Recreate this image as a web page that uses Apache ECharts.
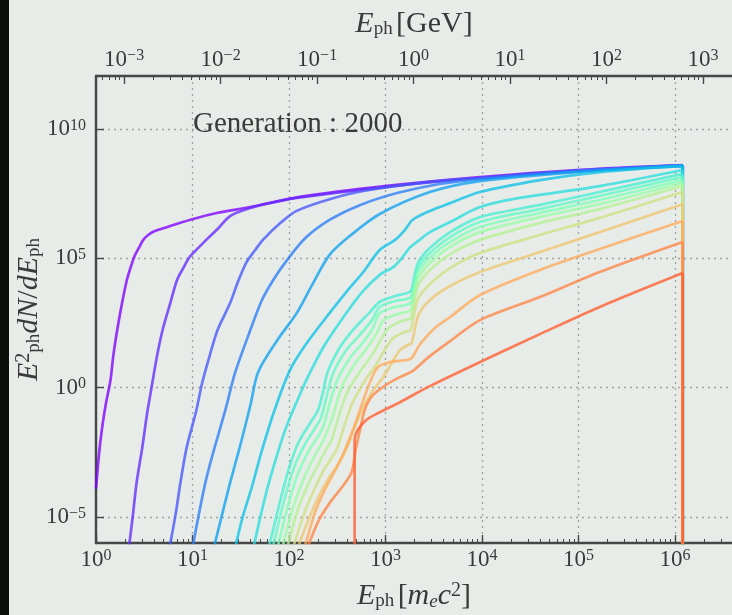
<!DOCTYPE html>
<html>
<head>
<meta charset="utf-8">
<title>Generation 2000</title>
<script src="https://cdn.jsdelivr.net/npm/echarts@6/dist/echarts.min.js"></script>
<style>
  html, body { margin: 0; padding: 0; background: #e7ece9; }
  #chart { width: 732px; height: 615px; }
</style>
</head>
<body>
<div id="chart"></div>
<script>
// spectra, as log10 exponents:
// [log10(E_ph / m_e c^2), log10(E^2 dN/dE)]
// the last point of each curve is the drop at the cutoff energy
const curve01 = [[0.00,-3.90],[0.03,-2.61],[0.06,-1.64],[0.10,-0.67],[0.15,0.29],[0.18,1.26],[0.22,2.23],[0.27,3.27],[0.32,4.16],[0.36,4.66],[0.40,5.09],[0.45,5.44],[0.49,5.71],[0.54,5.90],[0.61,6.05],[0.74,6.21],[0.97,6.48],[1.25,6.75],[1.60,6.98],[2.11,7.37],[2.99,7.79],[3.98,8.14],[4.98,8.41],[6.08,8.60],[6.08,-7]];
const curve02 = [[0.34,-6.2],[0.38,-5.00],[0.42,-3.69],[0.48,-2.30],[0.53,-0.99],[0.58,0.10],[0.63,1.18],[0.69,2.23],[0.77,3.27],[0.84,4.16],[0.91,4.66],[0.97,5.05],[1.06,5.40],[1.15,5.74],[1.26,6.13],[1.39,6.63],[1.60,6.94],[1.80,7.13],[2.08,7.33],[2.99,7.75],[3.98,8.10],[4.98,8.37],[6.08,8.57],[6.08,-7]];
const curve03 = [[0.76,-6.2],[0.82,-5.00],[0.88,-3.56],[0.94,-2.30],[1.04,-0.87],[1.10,0.18],[1.18,1.26],[1.26,2.23],[1.39,3.27],[1.47,4.08],[1.56,4.85],[1.65,5.32],[1.73,5.71],[1.91,6.36],[2.08,6.83],[2.42,7.28],[2.77,7.60],[3.46,7.95],[3.98,8.10],[4.98,8.39],[6.08,8.59],[6.08,-7]];
const curve04 = [[1.00,-6.2],[1.06,-5.00],[1.14,-3.56],[1.23,-2.30],[1.34,-0.87],[1.44,0.56],[1.58,2.03],[1.72,3.39],[1.85,4.24],[1.98,4.93],[2.17,5.78],[2.42,6.48],[2.74,7.06],[3.12,7.52],[3.56,7.87],[3.98,8.06],[4.98,8.37],[6.08,8.59],[6.08,-7]];
const curve05 = [[1.22,-6.2],[1.30,-5.00],[1.39,-3.67],[1.49,-2.30],[1.60,-0.68],[1.68,0.60],[1.88,1.84],[2.08,2.88],[2.24,3.97],[2.42,5.13],[2.63,5.86],[2.94,6.71],[3.46,7.56],[3.98,7.98],[4.98,8.33],[6.08,8.57],[6.08,-7]];
const curve06 = [[1.44,-6.2],[1.52,-5.00],[1.62,-3.77],[1.72,-2.41],[1.85,-0.87],[2.01,0.68],[2.17,1.65],[2.42,2.88],[2.61,3.77],[2.77,4.47],[2.94,5.32],[3.10,5.71],[3.20,6.09],[3.28,6.48],[3.46,6.83],[3.67,7.13],[3.98,7.56],[4.60,8.02],[5.22,8.33],[6.08,8.57],[6.08,-7]];
const curve07 = [[1.63,-6.2],[1.72,-4.73],[1.80,-3.56],[1.96,-1.64],[2.11,-0.29],[2.22,0.60],[2.37,1.65],[2.58,2.81],[2.76,3.70],[2.94,4.36],[3.08,4.66],[3.17,5.01],[3.25,5.40],[3.34,5.67],[3.46,6.01],[3.67,6.40],[3.98,6.98],[4.39,7.33],[5.22,7.79],[6.08,8.41],[6.08,-7]];
const curve08 = [[1.79,-6.2],[1.91,-4.35],[2.01,-2.99],[2.11,-2.03],[2.24,-1.25],[2.30,-0.87],[2.35,-0.21],[2.40,0.60],[2.53,1.57],[2.68,2.30],[2.84,2.92],[2.94,3.31],[3.10,3.54],[3.26,3.73],[3.30,4.32],[3.34,4.85],[3.46,5.40],[3.67,6.01],[3.98,6.59],[4.60,7.06],[5.22,7.56],[6.08,8.26],[6.08,-7]];
const curve09 = [[1.83,-6.2],[1.95,-4.35],[2.05,-3.11],[2.16,-2.23],[2.27,-1.56],[2.33,-1.18],[2.38,-0.49],[2.45,0.49],[2.58,1.38],[2.74,2.07],[2.86,2.61],[2.94,3.12],[3.10,3.35],[3.26,3.50],[3.30,4.12],[3.34,4.66],[3.46,5.20],[3.67,5.82],[3.98,6.40],[4.60,6.90],[5.22,7.41],[6.08,8.14],[6.08,-7]];
const curve10 = [[1.88,-6.2],[2.00,-4.42],[2.10,-3.26],[2.21,-2.41],[2.31,-1.83],[2.36,-1.45],[2.41,-0.76],[2.50,0.29],[2.63,1.14],[2.77,1.76],[2.87,2.30],[2.94,2.88],[3.10,3.12],[3.26,3.27],[3.30,3.89],[3.34,4.47],[3.46,5.01],[3.67,5.63],[3.98,6.21],[4.60,6.75],[5.22,7.25],[6.08,8.02],[6.08,-7]];
const curve11 = [[1.93,-6.2],[2.05,-4.54],[2.16,-3.45],[2.26,-2.68],[2.34,-2.15],[2.39,-1.76],[2.46,-1.03],[2.55,0.06],[2.68,0.91],[2.81,1.53],[2.91,2.11],[2.98,2.61],[3.13,2.85],[3.26,3.00],[3.30,3.66],[3.34,4.24],[3.46,4.81],[3.67,5.44],[3.98,6.01],[4.60,6.59],[5.22,7.09],[6.08,7.91],[6.08,-7]];
const curve12 = [[1.98,-6.2],[2.10,-4.62],[2.21,-3.64],[2.31,-2.92],[2.38,-2.41],[2.44,-2.03],[2.50,-1.29],[2.60,-0.21],[2.74,0.64],[2.86,1.26],[2.95,1.84],[3.03,2.30],[3.16,2.57],[3.26,2.69],[3.30,3.39],[3.34,3.97],[3.46,4.55],[3.67,5.16],[3.98,5.71],[4.60,6.36],[5.22,6.90],[6.08,7.79],[6.08,-7]];
const curve13 = [[2.04,-6.2],[2.17,-4.73],[2.27,-3.88],[2.36,-3.18],[2.44,-2.72],[2.50,-2.34],[2.56,-1.64],[2.66,-0.56],[2.79,0.29],[2.90,0.87],[2.99,1.45],[3.08,1.92],[3.20,2.15],[3.26,2.23],[3.30,2.92],[3.34,3.46],[3.46,4.00],[3.67,4.62],[3.98,5.20],[4.60,5.90],[5.22,6.56],[6.08,7.56],[6.08,-7]];
const curve14 = [[2.09,-6.2],[2.22,-4.93],[2.32,-4.11],[2.42,-3.45],[2.50,-3.03],[2.56,-2.64],[2.63,-2.03],[2.74,-0.99],[2.86,-0.17],[2.97,0.37],[3.07,0.99],[3.15,1.45],[3.23,1.65],[3.27,1.72],[3.31,2.38],[3.35,2.88],[3.46,3.39],[3.67,3.93],[3.98,4.47],[4.60,5.24],[5.22,6.01],[6.08,7.09],[6.08,-7]];
const curve15 = [[2.16,-6.2],[2.27,-4.81],[2.37,-3.96],[2.48,-3.18],[2.58,-2.41],[2.68,-1.45],[2.77,-0.49],[2.84,0.22],[2.92,0.79],[3.05,0.99],[3.26,1.11],[3.31,1.38],[3.36,1.69],[3.51,2.30],[3.67,2.73],[3.98,3.58],[4.60,4.55],[5.22,5.36],[6.08,6.44],[6.08,-7]];
const curve16 = [[2.19,-6.2],[2.30,-5.19],[2.42,-4.46],[2.55,-3.84],[2.65,-3.26],[2.69,-2.41],[2.74,-1.56],[2.79,-0.80],[2.87,-0.29],[3.02,0.14],[3.15,0.41],[3.28,0.64],[3.34,0.83],[3.46,1.22],[3.67,1.80],[3.98,2.61],[4.60,3.50],[5.22,4.47],[6.08,5.63],[6.08,-7]];
const curve17 = [[2.68,-6.7],[2.68,-2.03],[2.70,-1.72],[2.75,-1.45],[2.81,-1.22],[2.94,-0.95],[3.15,-0.56],[3.46,0.06],[3.98,0.99],[4.60,2.07],[5.22,3.12],[6.08,4.43],[6.08,-7]];

const curves = [curve01, curve02, curve03, curve04, curve05, curve06, curve07, curve08, curve09,
                curve10, curve11, curve12, curve13, curve14, curve15, curve16, curve17];

// rainbow colormap, purple -> orange red
const lineColors = ['#8000ff', '#632cfe', '#4756fb', '#2b7ef7', '#0fa2f0', '#0dc2e7', '#29dcde', '#45eed2', '#61fac5',
                    '#7dffb6', '#99fca5', '#b5f194', '#d1df82', '#edc76f', '#ffa95b', '#ff8545', '#ff5e30'];

const xTicks = [1, 10, 100, 1e3, 1e4, 1e5, 1e6];
const gevTicks = [1e-3, 1e-2, 1e-1, 1, 10, 100, 1e3];
const gevDecades = [1e-4, 1e-3, 1e-2, 1e-1, 1, 10, 100, 1e3];
const yTicks = [1e-5, 1, 1e5, 1e10];
const minorMant = [2, 3, 4, 5, 6, 7, 8, 9];

const MEC2_GEV = 5.11e-4;
const X_MIN = 1, X_MAX = 3.9e6;
const Y_MIN = 1e-6, Y_MAX = 1.1e12;
const GEV_MIN = X_MIN * MEC2_GEV, GEV_MAX = X_MAX * MEC2_GEV;

const SERIF = "'Liberation Serif', 'DejaVu Serif', serif";
const TXT = '#3a3a3a';
const AXIS = '#474747';
const GRID = '#9fa3a1';

const minorBottom = xTicks.flatMap(d => minorMant.map(m => m * d)).filter(v => v < X_MAX);
const minorTop = gevDecades.flatMap(d => minorMant.map(m => m * d)).filter(v => v > GEV_MIN && v < GEV_MAX);

function powLabel(v) {
    const e = Math.round(Math.log10(v));
    return '{b|10}{e|' + String(e).replace('-', '\u2212') + '}';
}

const tickRich = {
    b: { fontFamily: SERIF, fontSize: 23, lineHeight: 23, color: TXT, verticalAlign: 'bottom' },
    e: { fontFamily: SERIF, fontSize: 16, lineHeight: 16, color: TXT, verticalAlign: 'top', padding: [0, 0, 9, 0] }
};

const nameRich = {
    i: { fontFamily: SERIF, fontSize: 30, lineHeight: 30, fontStyle: 'italic', color: TXT, verticalAlign: 'top' },
    r: { fontFamily: SERIF, fontSize: 30, lineHeight: 30, color: TXT, verticalAlign: 'top' },
    s: { fontFamily: SERIF, fontSize: 19, lineHeight: 19, color: TXT, verticalAlign: 'bottom', padding: [14, 0, 0, 0] },
    si: { fontFamily: SERIF, fontSize: 19, lineHeight: 19, fontStyle: 'italic', color: TXT, verticalAlign: 'bottom', padding: [14, 0, 0, 0] },
    p: { fontFamily: SERIF, fontSize: 20, lineHeight: 20, color: TXT, verticalAlign: 'top' }
};

const chart = echarts.init(document.getElementById('chart'));

const toValue = p => [Math.pow(10, p[0]), Math.pow(10, p[1])];
const series = [];
curves.forEach((pts, i) => {
    const style = { color: lineColors[i], width: 2.7, opacity: 0.78 };
    // the spectrum itself
    series.push({
        type: 'line', xAxisIndex: 0, yAxisIndex: 0,
        data: pts.slice(0, -1).map(toValue),
        symbol: 'none', silent: true,
        smooth: 0.3,
        lineStyle: style, itemStyle: { color: lineColors[i] }
    });
    // the vertical cutoff
    series.push({
        type: 'line', xAxisIndex: 0, yAxisIndex: 0,
        data: pts.slice(-2).map(toValue),
        symbol: 'none', silent: true,
        lineStyle: style, itemStyle: { color: lineColors[i] }
    });
});

const option = {
    animation: false,
    backgroundColor: '#e7ece9',
    title: {
        text: 'Generation : 2000',
        left: 188,
        top: 105,
        textStyle: { fontFamily: SERIF, fontSize: 29, fontWeight: 'normal', color: TXT }
    },
    graphic: [
        { type: 'rect', left: 0, top: 0, shape: { width: 9, height: 615 }, style: { fill: '#0c0e0c' } }
    ],
    grid: { left: 96, right: 0, top: 76, bottom: 72, outerBoundsMode: 'none' },
    xAxis: [
        {
            type: 'log', logBase: 10, min: X_MIN, max: X_MAX, position: 'bottom',
            axisLine: { onZero: false, lineStyle: { color: AXIS, width: 2.4 } },
            axisTick: { inside: true, length: 8, customValues: xTicks, lineStyle: { color: AXIS, width: 1.4 } },
            axisLabel: { customValues: xTicks, formatter: powLabel, rich: tickRich, margin: 5 },
            splitLine: { show: true, lineStyle: { type: [2, 4], color: GRID, width: 1.3 } },
            name: '{i|E}{s|ph} {r|[}{i|m}{si|e}{i|c}{p|2}{r|]}',
            nameLocation: 'middle', nameGap: 38, nameMoveOverlap: false,
            nameTextStyle: { rich: nameRich }
        },
        {
            type: 'log', logBase: 10, min: GEV_MIN, max: GEV_MAX, position: 'top',
            axisLine: { onZero: false, lineStyle: { color: AXIS, width: 2.4 } },
            axisTick: { inside: true, length: 8, customValues: gevTicks, lineStyle: { color: AXIS, width: 1.4 } },
            axisLabel: { customValues: gevTicks, formatter: powLabel, rich: tickRich, margin: 5 },
            splitLine: { show: false },
            name: '{i|E}{s|ph} {r|[GeV]}',
            nameLocation: 'middle', nameGap: 37, nameMoveOverlap: false,
            nameTextStyle: { rich: nameRich }
        },
        {
            type: 'log', logBase: 10, min: X_MIN, max: X_MAX, position: 'bottom',
            axisLine: { show: false, onZero: false },
            axisTick: { inside: true, length: 4, customValues: minorBottom, lineStyle: { color: AXIS, width: 1 } },
            axisLabel: { show: false },
            splitLine: { show: false }
        },
        {
            type: 'log', logBase: 10, min: GEV_MIN, max: GEV_MAX, position: 'top',
            axisLine: { show: false, onZero: false },
            axisTick: { inside: true, length: 4, customValues: minorTop, lineStyle: { color: AXIS, width: 1 } },
            axisLabel: { show: false },
            splitLine: { show: false }
        }
    ],
    yAxis: {
        type: 'log', logBase: 10, min: Y_MIN, max: Y_MAX, position: 'left',
        axisLine: { onZero: false, lineStyle: { color: AXIS, width: 2.4 } },
        axisTick: { inside: true, length: 8, customValues: yTicks, lineStyle: { color: AXIS, width: 1.4 } },
        axisLabel: { customValues: yTicks, formatter: powLabel, rich: tickRich, margin: 10 },
        splitLine: { show: true, lineStyle: { type: [2, 4], color: GRID, width: 1.3 } },
        name: '{i|E}{p|2}{s|ph}{i|dN}{r|/}{i|dE}{s|ph}',
        nameLocation: 'middle', nameGap: 52, nameRotate: 90, nameMoveOverlap: false,
        nameTextStyle: { rich: nameRich }
    },
    series: series
};

chart.setOption(option);
</script>
</body>
</html>
